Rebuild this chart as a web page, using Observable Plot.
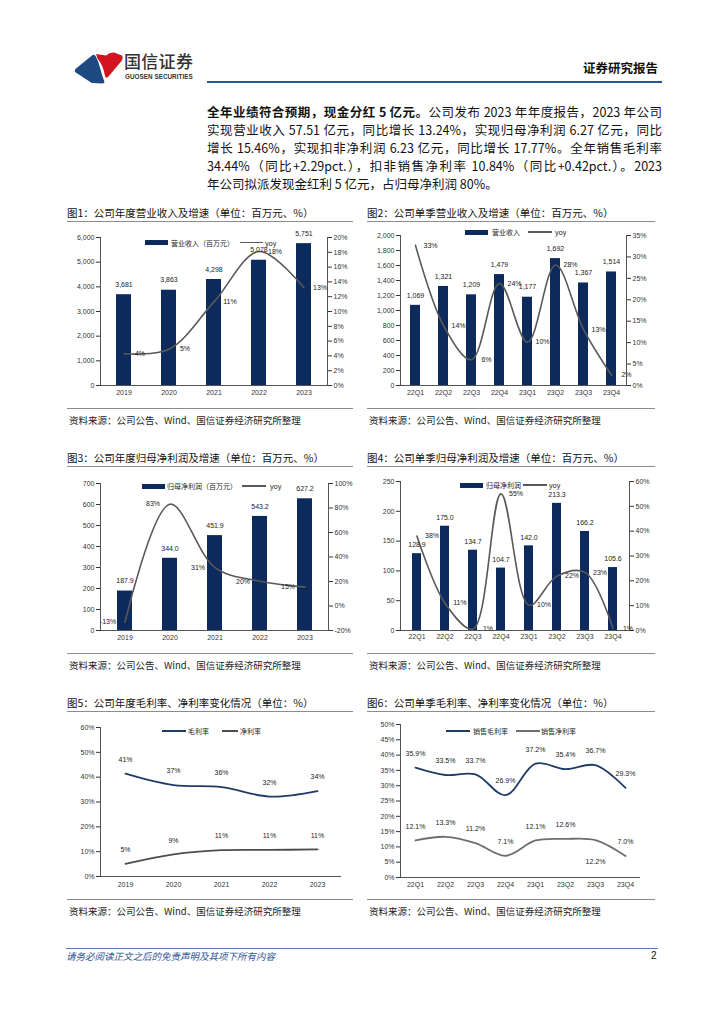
<!DOCTYPE html>
<html><head><meta charset="utf-8">
<script src="https://cdn.jsdelivr.net/npm/d3@7"></script>
<script src="https://cdn.jsdelivr.net/npm/@observablehq/plot@0.6"></script>
<style>
html,body{margin:0;padding:0;background:#fff;}
body{width:724px;height:1024px;position:relative;overflow:hidden;font-family:"Noto Sans CJK SC","Noto Sans",sans-serif;color:#000;}
.abs{position:absolute;white-space:nowrap;}
.ttl{position:absolute;white-space:nowrap;font-size:10.5px;line-height:12px;color:#111;}
.rule{position:absolute;height:0;border-top:1.6px solid #8c8c8c;}
.src{position:absolute;white-space:nowrap;font-size:9.5px;line-height:12px;color:#222;}
.pl{position:absolute;left:207px;width:455px;font-size:12.5px;line-height:16px;white-space:nowrap;text-align:justify;text-align-last:justify;color:#111;}
.leg{position:absolute;font-size:7px;line-height:8px;white-space:nowrap;color:#222;}
.sw{position:absolute;}
</style></head><body>
<script>
// ---------- DATA ----------
const years = ["2019", "2020", "2021", "2022", "2023"];
const quarters = ["22Q1", "22Q2", "22Q3", "22Q4", "23Q1", "23Q2", "23Q3", "23Q4"];

const revenue = [3681, 3863, 4298, 5078, 5751];
const revenueYoy = [4.3, 4.9, 11.3, 18.1, 13.2];

const qRevenue = [1069, 1321, 1209, 1479, 1177, 1692, 1367, 1514];
const qRevenueYoy = [32.7, 14, 6, 23.8, 10.1, 28.1, 13.1, 2.4];

const netProfit = [187.9, 344.0, 451.9, 543.2, 627.2];
const netProfitYoy = [-13.2, 83.1, 31.4, 20.2, 15.4];

const qNetProfit = [128.9, 175.0, 134.7, 104.7, 142.0, 213.3, 166.2, 105.6];
const qNetProfitYoy = [38, 11, 0.6, 55, 10.2, 21.9, 23.4, 0.9];

const grossMargin = [41.4, 36.8, 36.0, 32.2, 34.4];
const netMargin = [5.1, 8.9, 10.6, 10.7, 10.9];

const qGrossMargin = [35.9, 33.5, 33.7, 26.9, 37.2, 35.4, 36.7, 29.3];
const qNetMargin = [12.1, 13.3, 11.2, 7.1, 12.1, 12.6, 12.2, 7.0];

const c1LeftTicks = [0, 1000, 2000, 3000, 4000, 5000, 6000];
const c1RightTicks = [0, 2, 4, 6, 8, 10, 12, 14, 16, 18, 20];
const c2LeftTicks = [0, 200, 400, 600, 800, 1000, 1200, 1400, 1600, 1800, 2000];
const c2RightTicks = [0, 5, 10, 15, 20, 25, 30, 35];
const c3LeftTicks = [0, 100, 200, 300, 400, 500, 600, 700];
const c3RightTicks = [-20, 0, 20, 40, 60, 80, 100];
const c4LeftTicks = [0, 50, 100, 150, 200, 250];
const c4RightTicks = [0, 10, 20, 30, 40, 50, 60];
const c5Ticks = [0, 10, 20, 30, 40, 50, 60];
const c6Ticks = [0, 5, 10, 15, 20, 25, 30, 35, 40, 45, 50];

const titles = [
  "图1：公司年度营业收入及增速（单位：百万元、%）",
  "图2：公司单季营业收入及增速（单位：百万元、%）",
  "图3：公司年度归母净利润及增速（单位：百万元、%）",
  "图4：公司单季归母净利润及增速（单位：百万元、%）",
  "图5：公司年度毛利率、净利率变化情况（单位：%）",
  "图6：公司单季毛利率、净利率变化情况（单位：%）"
];
const sourceText = "资料来源：公司公告、Wind、国信证券经济研究所整理";

// ---------- STYLE ----------
const NAVY = "#0c2a5b";
const GRAY = "#595959";
const LINE_NAVY = "#1f3c66";
const AX = "#404040";
const baseStyle = {fontFamily: "'Liberation Sans', Arial, sans-serif", fontSize: "7px", color: "#333", background: "none", overflow: "visible"};
const pct0 = v => Math.round(v) + "%";
const pct1 = v => d3.format(".1f")(v) + "%";

function put(el, left, top) {
  el.style.position = "absolute";
  el.style.left = left + "px";
  el.style.top = top + "px";
  document.body.appendChild(el);
  return el;
}
function div(cls, html, left, top, extra) {
  const d = document.createElement("div");
  d.className = cls;
  d.innerHTML = html;
  if (extra) Object.assign(d.style, extra);
  return put(d, left, top);
}

// ---------- HEADER ----------
const logo = document.createElementNS("http://www.w3.org/2000/svg", "svg");
logo.setAttribute("width", 140); logo.setAttribute("height", 95);
logo.innerHTML = `
<path d="M75,72 Q74,70 76,68.5 L92,55.5 Q94,54 95.5,56 C99,62 100,68 101.5,73 C102.5,77 104,80 104.5,82 Q104,83.5 102,83.5 L93,83 Q91,83 89.5,81.5 Z" fill="#1d4a80"/>
<path d="M96,54 L106,55.5 Q110,52 114,52.5 L122,55.5 Q123.5,58 121.5,61 L108,77 Q106,79 105,76 C104,70 102,64 97.5,58.5 Z" fill="#d3131d"/>`;
put(logo, 0, 0);
div("abs", "国信证券", 124, 51, {fontSize: "17px", lineHeight: "20px", color: "#333", fontWeight: "500", letterSpacing: "0.3px"});
div("abs", "GUOSEN SECURITIES", 125, 72.5, {fontSize: "6.3px", lineHeight: "7px", color: "#333", fontFamily: "'Liberation Sans',Arial,sans-serif", fontWeight: "bold", letterSpacing: "0.05px"});
div("abs", "证券研究报告", 583, 60, {fontSize: "12.5px", lineHeight: "16px", fontWeight: "bold", color: "#111"});
div("sw", "", 207, 80.5, {width: "455px", height: "2.5px", background: "#2a5596"});

// ---------- PARAGRAPH ----------
const paraLines = [
  "<b>全年业绩符合预期，现金分红 5 亿元。</b>公司发布 2023 年年度报告，2023 年公司",
  "实现营业收入 57.51 亿元，同比增长 13.24%，实现归母净利润 6.27 亿元，同比",
  "增长 15.46%，实现扣非净利润 6.23 亿元，同比增长 17.77%。全年销售毛利率",
  "34.44%（同比+2.29pct.），扣非销售净利率 10.84%（同比+0.42pct.）。2023",
  "年公司拟派发现金红利 5 亿元，占归母净利润 80%。"
];
paraLines.forEach((t, i) => {
  const d = div("pl", t, 207, 104 + i * 18);
  if (i === paraLines.length - 1) d.style.textAlignLast = "left";
});

// ---------- FRAMES (titles, rules, sources) ----------
const cols = [{x: 67, w: 286}, {x: 367, w: 288}];
const rows = [{t: 207, u: 221, r: 408, s: 414}, {t: 451.5, u: 466, r: 653, s: 658.5}, {t: 696.5, u: 711, r: 898.5, s: 904.5}];
titles.forEach((t, i) => {
  const c = cols[i % 2], r = rows[Math.floor(i / 2)];
  div("ttl", t, c.x, r.t);
  div("rule", "", c.x, r.u, {width: c.w + "px"});
  div("rule", "", c.x, r.r, {width: c.w + "px"});
  div("src", sourceText, c.x + 2, r.s);
});

// ---------- LEGENDS ----------
function legBar(x, cy, text, tx) {
  div("sw", "", x, cy - 2.5, {width: "23px", height: "5px", background: NAVY});
  div("leg", text, tx, cy - 4);
}
function legLine(x, w, cy, color, text, tx) {
  div("sw", "", x, cy - 0.8, {width: w + "px", height: "1.6px", background: color});
  div("leg", text, tx, cy - 4);
}

// ---------- CHART HELPERS ----------
function barLineChart(cfg) {
  const data = cfg.cats.map((k, i) => ({k, v: cfg.bars[i], g: cfg.yoy[i]}));
  return Plot.plot({
    width: 300, height: cfg.height, marginLeft: 40, marginRight: cfg.mR, marginTop: cfg.mT, marginBottom: cfg.mB,
    style: baseStyle,
    x: {type: "band", domain: cfg.cats, paddingInner: cfg.pad, paddingOuter: cfg.pad / 2, label: null},
    y: {domain: cfg.yDomain, label: null},
    marks: [
      Plot.barY(data, {x: "k", y: "v", fill: NAVY}),
      Plot.line(data, {x: "k", y: d => cfg.toLeft(d.g), stroke: GRAY, strokeWidth: 1.6, curve: "catmull-rom"}),
      Plot.text(data, {x: "k", y: "v", text: d => cfg.barFmt(d.v), dy: cfg.barDy, fill: "#222"}),
      Plot.text(data, {x: "k", y: d => cfg.toLeft(d.g), text: d => pct0(d.g), dx: cfg.lblDx, fill: "#222"}),
      Plot.axisY(cfg.leftTicks, {anchor: "left", tickSize: 4, tickPadding: 2, tickFormat: cfg.leftFmt, label: null, color: "#333"}),
      Plot.axisY(cfg.rightTicks.map(cfg.toLeft), {anchor: "right", tickSize: 4, tickPadding: 2, tickFormat: d => pct0(cfg.fromLeft(d)), label: null, color: "#333"}),
      Plot.axisX({tickSize: 0, tickPadding: cfg.xPad, label: null, color: "#333"}),
      Plot.ruleY([cfg.yDomain[0]], {stroke: AX, strokeWidth: 0.9}),
      Plot.frame({anchor: "left", stroke: AX, strokeWidth: 0.9}),
      Plot.frame({anchor: "right", stroke: AX, strokeWidth: 0.9})
    ]
  });
}

function marginChart(cfg) {
  const data = cfg.cats.map((k, i) => ({k, a: cfg.gross[i], b: cfg.net[i], i}));
  return Plot.plot({
    width: 300, height: 180, marginLeft: 40, marginRight: cfg.mR, marginTop: cfg.mT, marginBottom: cfg.mB,
    style: baseStyle,
    x: {type: "point", domain: cfg.cats, padding: 0.5, label: null},
    y: {domain: cfg.yDomain, label: null},
    marks: [
      Plot.line(data, {x: "k", y: "a", stroke: LINE_NAVY, strokeWidth: 1.8, curve: "catmull-rom"}),
      Plot.line(data, {x: "k", y: "b", stroke: cfg.netColor, strokeWidth: 1.8, curve: "catmull-rom"}),
      Plot.text(data, {x: "k", y: "a", text: d => cfg.fmt(d.a), dy: -14, fill: "#222"}),
      Plot.text(data, {filter: d => !cfg.below.includes(d.i), x: "k", y: "b", text: d => cfg.fmt(d.b), dy: -14, fill: "#222"}),
      Plot.text(data, {filter: d => cfg.below.includes(d.i), x: "k", y: "b", text: d => cfg.fmt(d.b), dy: 22, fill: "#222"}),
      Plot.axisY(cfg.ticks, {anchor: "left", tickSize: 4, tickPadding: 2, tickFormat: d => d + "%", label: null, color: "#333"}),
      Plot.axisX({tickSize: 0, tickPadding: cfg.xPad, label: null, color: "#333"}),
      Plot.ruleY([0], {stroke: AX, strokeWidth: 0.9}),
      Plot.frame({anchor: "left", stroke: AX, strokeWidth: 0.9})
    ]
  });
}

// ---------- CHART 1 ----------
put(barLineChart({
  cats: years, bars: revenue, yoy: revenueYoy, height: 175, mR: 33, mT: 12, mB: 15, pad: 0.67,
  yDomain: [0, 6000], toLeft: v => v * 300, fromLeft: d => d / 300,
  leftTicks: c1LeftTicks, rightTicks: c1RightTicks, leftFmt: d3.format(","), barFmt: d3.format(","),
  barDy: -10, lblDx: 16, xPad: 5
}), 60, 225);
legBar(145, 242.5, "营业收入（百万元）", 171);
legLine(240, 23, 242.5, GRAY, "yoy", 265);

// ---------- CHART 2 ----------
put(barLineChart({
  cats: quarters, bars: qRevenue, yoy: qRevenueYoy, height: 178, mR: 34, mT: 13, mB: 15, pad: 0.66,
  yDomain: [0, 2000], toLeft: v => v * 2000 / 35, fromLeft: d => d * 35 / 2000,
  leftTicks: c2LeftTicks, rightTicks: c2RightTicks, leftFmt: d3.format(","), barFmt: d3.format(","),
  barDy: -10, lblDx: 15, xPad: 5
}), 360, 222);
legBar(465, 232, "营业收入", 492);
legLine(528, 24, 232, GRAY, "yoy", 555);

// ---------- CHART 3 ----------
put(barLineChart({
  cats: years, bars: netProfit, yoy: netProfitYoy, height: 175, mR: 32, mT: 13, mB: 15, pad: 0.67,
  yDomain: [0, 700], toLeft: v => (v + 20) / 120 * 700, fromLeft: d => d * 120 / 700 - 20,
  leftTicks: c3LeftTicks, rightTicks: c3RightTicks, leftFmt: d => d, barFmt: d3.format(".1f"),
  barDy: -10, lblDx: -17, xPad: 5
}), 60, 470);
legBar(142, 486, "归母净利润（百万元）", 167);
legLine(242, 24, 486, GRAY, "yoy", 270);

// ---------- CHART 4 ----------
put(barLineChart({
  cats: quarters, bars: qNetProfit, yoy: qNetProfitYoy, height: 175, mR: 31, mT: 11, mB: 15, pad: 0.68,
  yDomain: [0, 250], toLeft: v => v * 250 / 60, fromLeft: d => d * 60 / 250,
  leftTicks: c4LeftTicks, rightTicks: c4RightTicks, leftFmt: d => d, barFmt: d3.format(".1f"),
  barDy: -8.5, lblDx: 15, xPad: 4
}), 360, 470);
legBar(460, 485, "归母净利润", 486);
legLine(523, 24, 485, GRAY, "yoy", 549);

// ---------- CHART 5 ----------
put(marginChart({
  cats: years, gross: grossMargin, net: netMargin, mR: 19, mT: 12, mB: 19,
  yDomain: [0, 60], ticks: c5Ticks, fmt: pct0, netColor: "#4d4d4d", below: [], xPad: 6
}), 60, 715);
legLine(162, 24, 731, LINE_NAVY, "毛利率", 188);
legLine(222, 16, 731, "#4d4d4d", "净利率", 240);

// ---------- CHART 6 ----------
put(marginChart({
  cats: quarters, gross: qGrossMargin, net: qNetMargin, mR: 20, mT: 9, mB: 18,
  yDomain: [0, 50], ticks: c6Ticks, fmt: pct1, netColor: "#6e6e6e", below: [6], xPad: 5
}), 360, 715);
legLine(446, 24, 731, LINE_NAVY, "销售毛利率", 473);
legLine(516, 24, 731, "#6e6e6e", "销售净利率", 541);

// ---------- FOOTER ----------
div("sw", "", 66, 948, {width: "592px", height: "1px", background: "#4f7fb5"});
div("abs", "请务必阅读正文之后的免责声明及其项下所有内容", 66, 950, {fontSize: "9.5px", lineHeight: "12px", fontStyle: "italic", color: "#2f5597"});
div("abs", "2", 651, 950, {fontSize: "10px", lineHeight: "12px", color: "#111", fontFamily: "'Liberation Sans',Arial,sans-serif"});
</script>
</body></html>
